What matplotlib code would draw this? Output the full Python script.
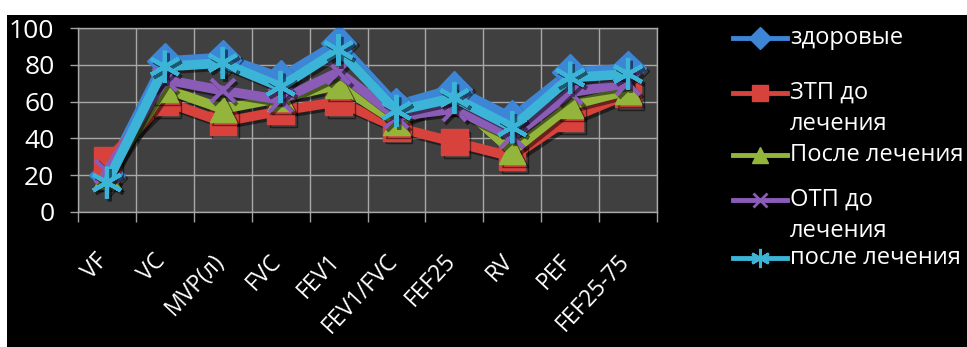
import matplotlib
matplotlib.use("Agg")
import matplotlib.pyplot as plt
import matplotlib.patheffects as pe
import matplotlib.transforms as mtransforms
from matplotlib.lines import Line2D
from matplotlib.patches import Rectangle
import numpy as np

plt.rcParams["font.family"] = ["Open Sans", "DejaVu Sans"]

# ── data ────────────────────────────────────────────────────────────────────
categories = ["VF", "VC", "MVP(л)", "FVC", "FEV1", "FEV1/FVC",
              "FEF25", "RV", "PEF", "FEF25-75"]
healthy    = [20, 82, 84, 73, 92, 58, 67, 51, 76, 78]
ztp_before = [28, 60, 49, 55, 60, 46, 38, 30, 51, 64]
ztp_after  = [20, 67, 56, 62, 69, 49, 61, 33, 58, 66]
otp_before = [22, 72, 66, 61, 76, 52, 56, 41, 65, 70]
otp_after  = [16, 79, 81, 68, 88, 55, 62, 46, 73, 75]

labels = ["здоровые", "ЗТП до\nлечения", "После лечения",
          "ОТП до\nлечения", "после лечения"]
yticks = [0, 20, 40, 60, 80, 100]

# style per series: colour, marker, marker size
STYLE = [
    ("#3d86d6", "D", 18),
    ("#d8423c", "s", 19),
    ("#93b53c", "^", 19),
    ("#8a5cb8", "x", 17),
    ("#3cb4d8", (6, 2, 0), 23),
]
series = [healthy, ztp_before, ztp_after, otp_before, otp_after]

# ── figure ─────────────────────────────────────────────────────────────────
fig = plt.figure(figsize=(9.67, 3.47), dpi=100, facecolor="white")
fig.patches.append(Rectangle((7 / 967, 0), 1, 1 - 15 / 347,
                             transform=fig.transFigure,
                             facecolor="black", edgecolor="none", zorder=-10))

ax = fig.add_axes([78 / 967, 1 - 212 / 347, 579 / 967, 184 / 347])
ax.set_zorder(2)
ax.set_facecolor("#404040")

x = np.arange(len(categories))
shadow = [pe.SimpleLineShadow(offset=(2, -2), shadow_color="black", alpha=0.5),
          pe.Normal()]
for vals, (col, mk, ms) in zip(series, STYLE):
    ax.plot(x, vals, color=col, lw=7, solid_joinstyle="miter",
            marker=mk, markersize=ms, markerfacecolor=col,
            markeredgecolor=col, markeredgewidth=3 if mk in ("x", (6, 2, 0)) else 1,
            path_effects=shadow, zorder=3)

ax.set_xlim(-0.5, len(categories) - 0.5)
ax.set_ylim(0, 100)
ax.set_yticks(yticks)
ax.set_yticklabels([str(v) for v in yticks], fontsize=19, color="white")
ax.tick_params(axis="y", length=6, width=1, color="#a0a0a0", pad=11)

ax.set_xticks(x)
ax.set_xticklabels(categories, rotation=47, ha="right", rotation_mode="default",
                   fontsize=16.5, color="white")
ax.tick_params(axis="x", which="major", length=0, pad=27)
shift = mtransforms.ScaledTranslation(6 / 100, 0, fig.dpi_scale_trans)
for lbl in ax.get_xticklabels():
    lbl.set_transform(lbl.get_transform() + shift)
ax.set_xticks(np.arange(len(categories) + 1) - 0.5, minor=True)
ax.tick_params(axis="x", which="minor", length=7, width=1, color="#a0a0a0")

ax.grid(True, which="minor", axis="x", color="#a8a8a8", lw=1, zorder=1)
ax.grid(True, which="major", axis="y", color="#a8a8a8", lw=1, zorder=1)
ax.grid(False, which="major", axis="x")
ax.set_axisbelow(True)
for s in ax.spines.values():
    s.set_color("#a8a8a8")
    s.set_linewidth(1)

# ── legend drawn by hand on the right ──────────────────────────────────────
leg_y = [38, 93, 155, 200, 258]  # pixel rows of each entry (first line)
for (col, mk, ms), lab, py in zip(STYLE, labels, leg_y):
    fy = 1 - py / 347
    fig.add_artist(Line2D([733 / 967, 787 / 967], [fy, fy],
                          transform=fig.transFigure, color=col, lw=3.5))
    fig.add_artist(Line2D([760 / 967], [fy], transform=fig.transFigure,
                          color=col, marker=mk, markersize=ms * 0.6,
                          markeredgewidth=2 if mk in ("x", (6, 2, 0)) else 1,
                          markerfacecolor=col, markeredgecolor=col,
                          linestyle="none"))
    lines = lab.split("\n")
    for k, ln in enumerate(lines):
        fig.text(790 / 967, 1 - (py + 31 * k) / 347, ln, color="white",
                 fontsize=17, ha="left", va="center")

fig.savefig("out.png", dpi=100, facecolor=fig.get_facecolor())
